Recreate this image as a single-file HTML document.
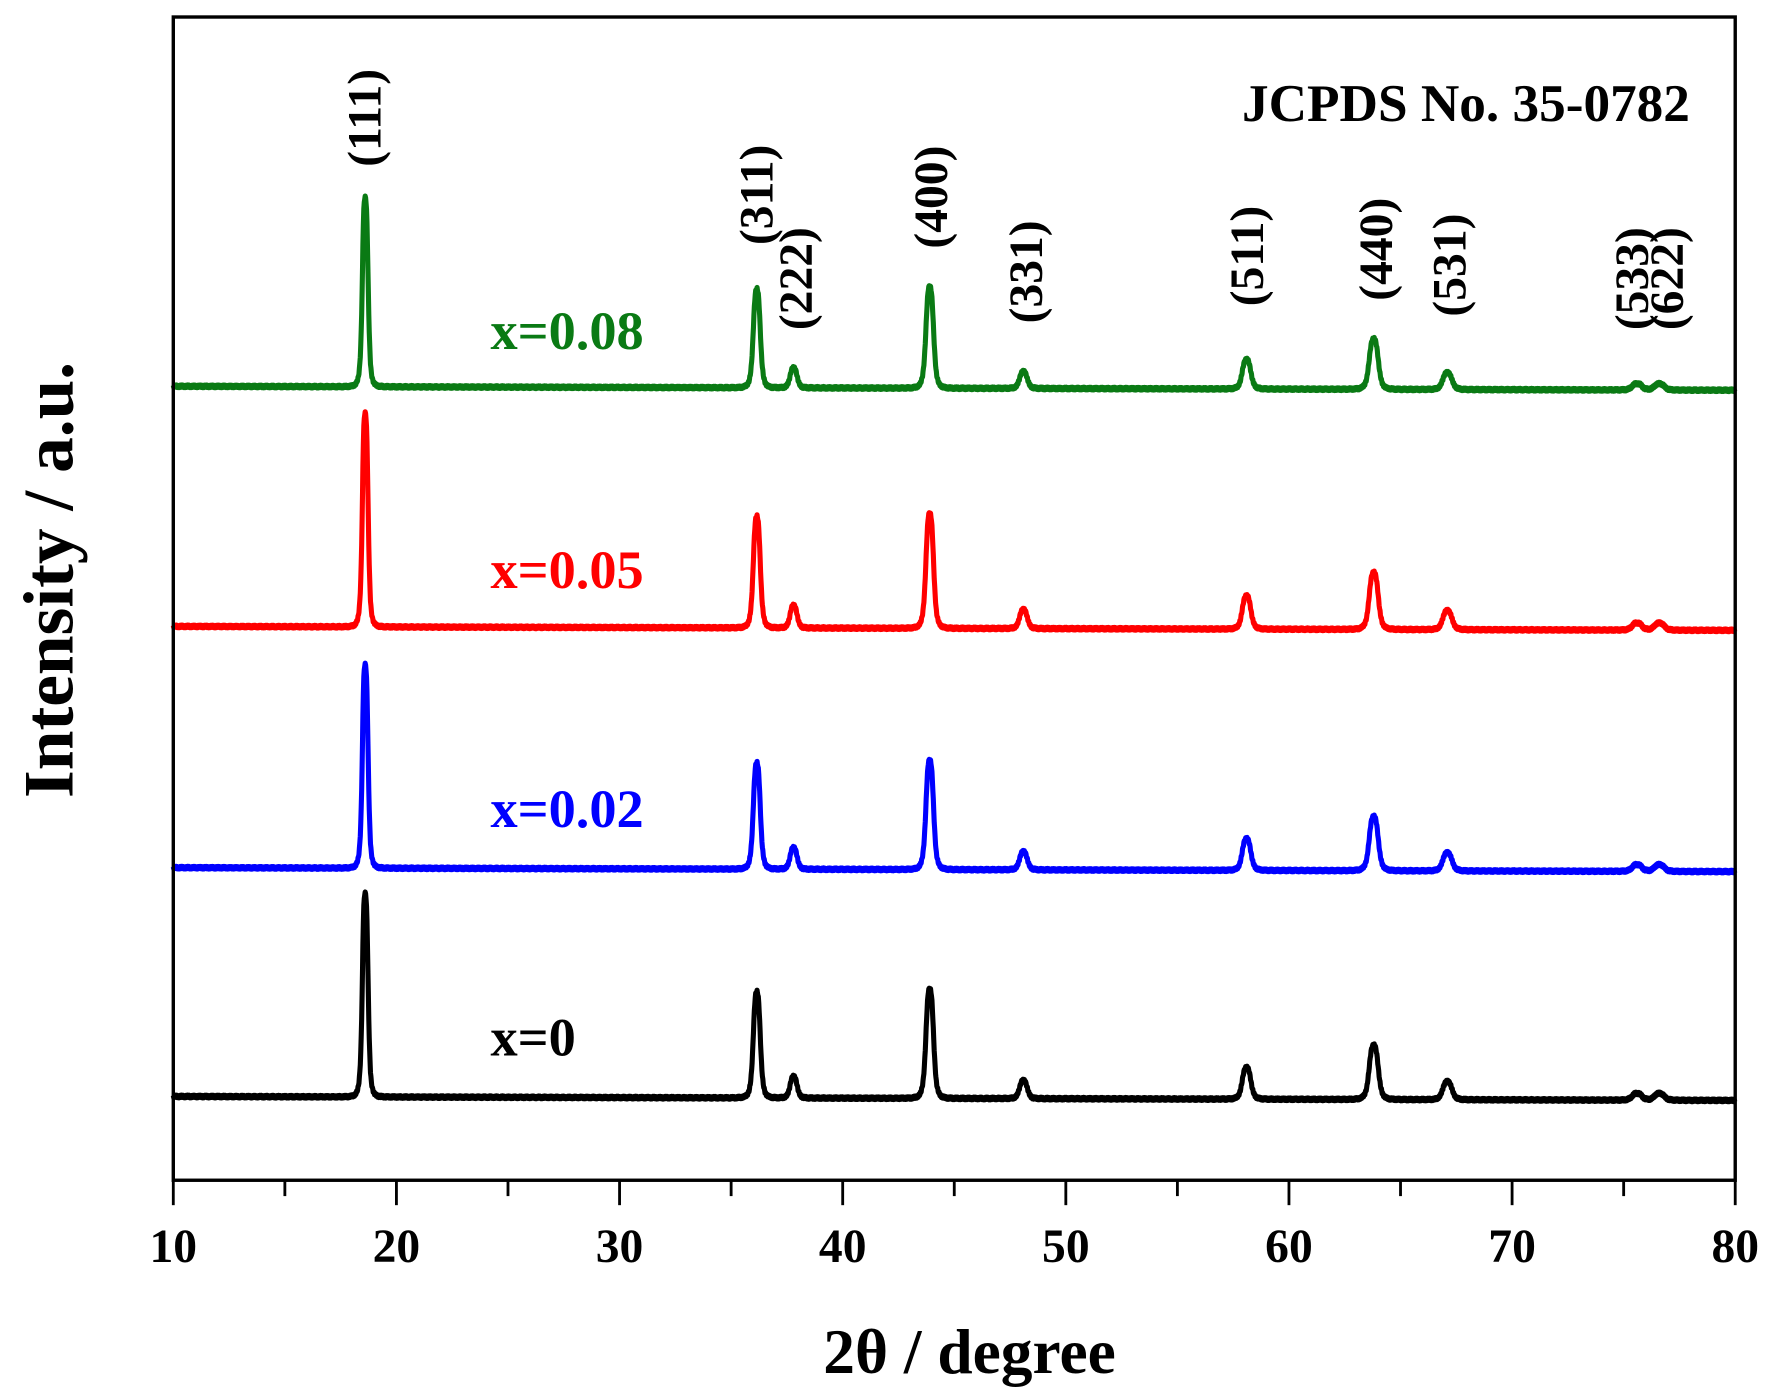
<!DOCTYPE html>
<html><head><meta charset="utf-8"><style>html,body{margin:0;padding:0;background:#fff}svg{display:block}</style></head>
<body>
<svg id="s" width="1776" height="1400" viewBox="0 0 1568 1236" xmlns="http://www.w3.org/2000/svg" font-family="Liberation Serif, serif" font-weight="bold">
<rect x="0" y="0" width="1568" height="1236" fill="#fff"/>
<g id="curves" fill="none" stroke-width="4.5" stroke-linejoin="round"></g>
<rect x="153" y="15" width="1379" height="1027" fill="none" stroke="#000" stroke-width="3"/>
<g id="ticks" stroke="#000" stroke-width="2.5"></g>
<g font-size="42" text-anchor="middle">
<text x="153" y="1114">10</text><text x="350" y="1114">20</text><text x="547" y="1114">30</text><text x="744" y="1114">40</text><text x="941" y="1114">50</text><text x="1138" y="1114">60</text><text x="1335" y="1114">70</text><text x="1532" y="1114">80</text>
</g>
<text x="856" y="1212" font-size="56" text-anchor="middle">2θ / degree</text>
<text transform="translate(64,512) rotate(-90)" font-size="63" text-anchor="middle">Intensity / a.u.</text>
<text x="1492" y="107" font-size="47" text-anchor="end">JCPDS No. 35-0782</text>
<g font-size="48">
<text x="433" y="308" fill="#0a7a14">x=0.08</text>
<text x="433" y="519" fill="#ff0000">x=0.05</text>
<text x="433" y="730" fill="#0000ff">x=0.02</text>
<text x="433" y="932" fill="#000">x=0</text>
</g>
<g font-size="42" text-anchor="middle" id="hkl"></g>
<script>
var X=function(d){return 153+(d-10)*19.7};
var pk=[[18.6,180],[36.15,94],[37.8,19],[43.9,97],[48.1,16],[58.1,28],[63.8,48],[67.1,16],[75.6,6],[76.6,6]];
var sets=[[968,'#000',1],[766,'#0000ff',1],[553,'#ff0000',1.05],[341,'#0a7a14',0.93]];
var g=document.getElementById('curves'),ns='http://www.w3.org/2000/svg';
sets.forEach(function(s){var d='';for(var t=10;t<=80;t+=0.02){var y=0;pk.forEach(function(p){var w=0.15+(p[0]-18)*0.002;var u=(t-p[0])/w;y+=p[1]*s[2]/(1+u*u*u*u+0.3*u*u);});y+=Math.sin(t*97)*1.2;var py=s[0]-y+(t-10)*0.05;d+=(d?'L':'M')+X(t).toFixed(1)+','+py.toFixed(1);}var p=document.createElementNS(ns,'path');p.setAttribute('d',d);p.setAttribute('stroke',s[1]);g.appendChild(p);});
var tk=document.getElementById('ticks');
for(var v=10;v<=80;v+=5){var l=document.createElementNS(ns,'line');var x=X(v);l.setAttribute('x1',x);l.setAttribute('x2',x);l.setAttribute('y1',1042);l.setAttribute('y2',v%10==0?1064:1056);tk.appendChild(l);}
var h=document.getElementById('hkl');
[['111',322,104],['311',668,172],['222',703,246],['400',822,174],['331',906,240],['511',1101,226],['440',1215,220],['531',1280,234],['533',1441,246],['622',1472,246]].forEach(function(a){var t=document.createElementNS(ns,'text');t.setAttribute('transform','translate('+(a[1]+14)+','+a[2]+') rotate(-90)');t.textContent='('+a[0]+')';h.appendChild(t);});
</script>
</svg>
</body></html>
